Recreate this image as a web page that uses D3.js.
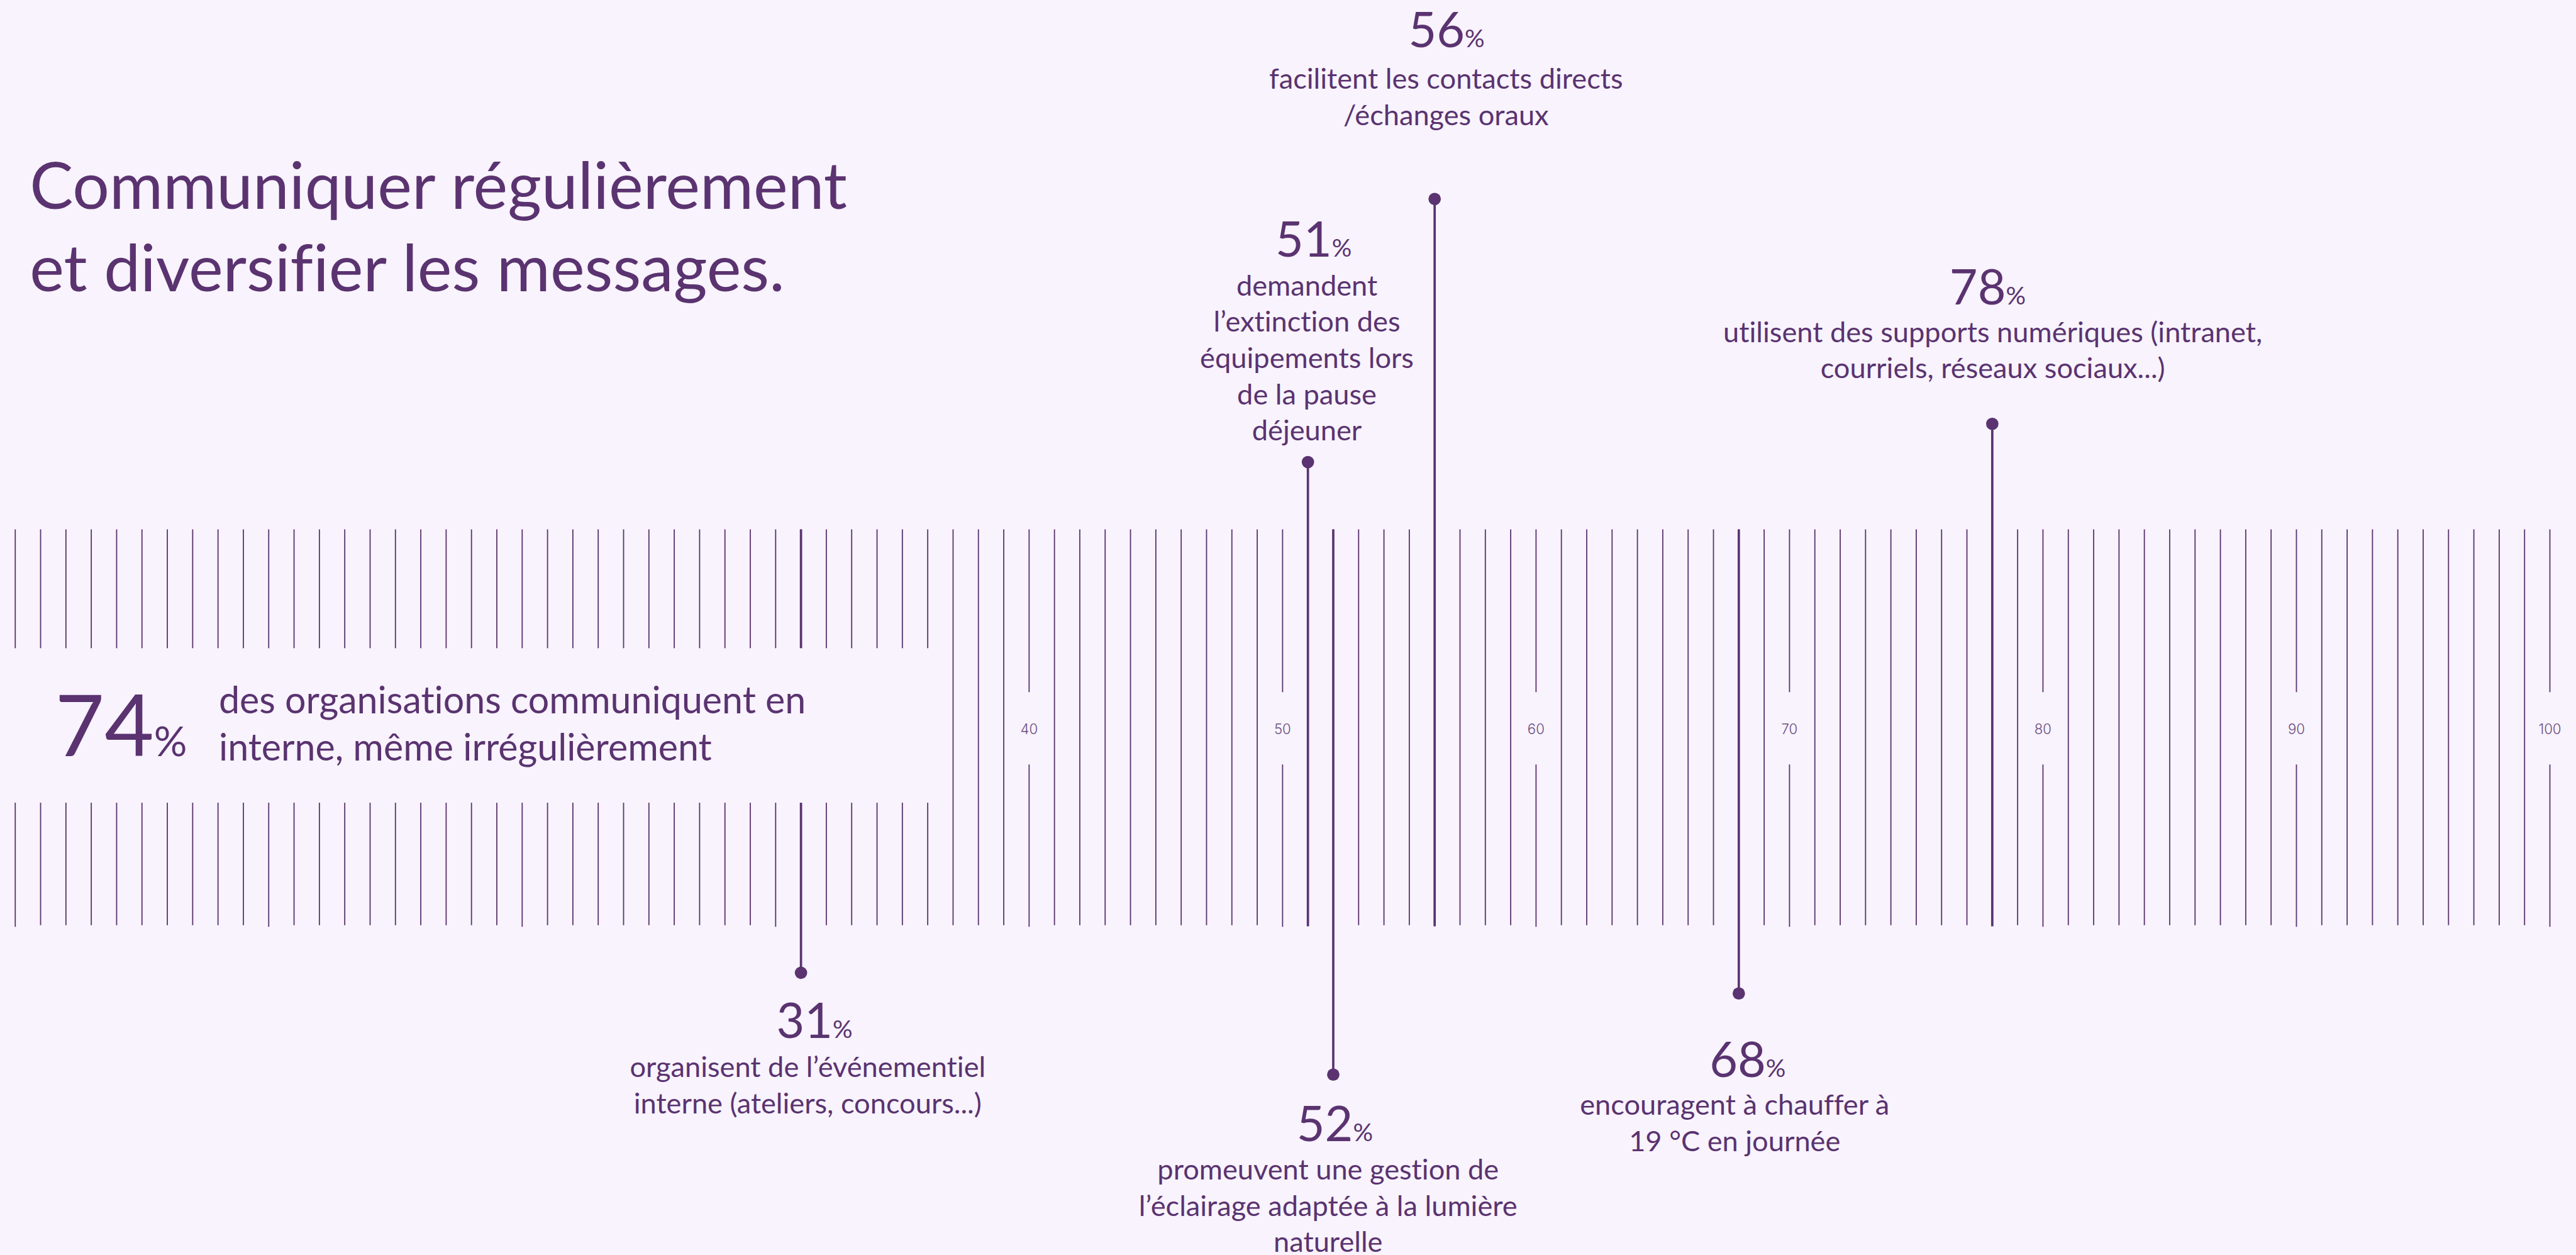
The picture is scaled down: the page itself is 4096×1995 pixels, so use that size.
<!DOCTYPE html>
<html lang="fr">
<head>
<meta charset="utf-8">
<title>Communiquer régulièrement et diversifier les messages</title>
<script src="https://cdn.jsdelivr.net/npm/d3@7"></script>
<style>
  html, body { margin: 0; padding: 0; background: #f8f3fc; overflow: hidden; }
  svg { display: block; }
  text {
    font-family: Lato, "Open Sans", sans-serif;
    fill: #5a3370;
    font-variant-ligatures: none;
    font-feature-settings: "liga" 0, "dlig" 0;
  }
</style>
</head>
<body>
<svg id="chart"></svg>
<script>
// --- données ---
const titleLines = ["Communiquer régulièrement", "et diversifier les messages."];
const headlineValue = 74;
const headlineLines = ["des organisations communiquent en", "interne, même irrégulièrement"];

const markerValues = [31, 51, 52, 56, 68, 78];
const markerLines = [
  ["organisent de l’événementiel", "interne (ateliers, concours...)"],
  ["demandent", "l’extinction des", "équipements lors", "de la pause", "déjeuner"],
  ["promeuvent une gestion de", "l’éclairage adaptée à la lumière", "naturelle"],
  ["facilitent les contacts directs", "/échanges oraux"],
  ["encouragent à chauffer à", "19 °C en journée"],
  ["utilisent des supports numériques (intranet,", "courriels, réseaux sociaux...)"]
];

const tickValues = d3.range(0, 101);
const tickLabels = [40, 50, 60, 70, 80, 90, 100];

// --- mise en page (coordonnées de la maquette 4984 x 2428) ---
const W = 4984, H = 2428;
const color = "#5a3370";
const rulerTop = 1024, rulerBottom = 1790;
const box = { right: 1822, top: 1254, bottom: 1553 };   // zone du texte 74 %
const gapTop = 1339, gapBottom = 1479, labelY = 1410;
const lineStep = 70;

// placement des étiquettes de chaque repère
const markerLayout = {
  31: { up: false, dotY: 1882, numDx: 26, numY: 2008, textDx: 13, textY: 2084 },
  51: { up: true,  dotY: 894,  numDx: 11, numY: 496,  textDx: -2, textY: 572 },
  52: { up: false, dotY: 2079, numDx: 3,  numY: 2208, textDx: -10, textY: 2282 },
  56: { up: true,  dotY: 385,  numDx: 23, numY: 91,   textDx: 22, textY: 172 },
  68: { up: false, dotY: 1922, numDx: 17, numY: 2084, textDx: -8, textY: 2157 },
  78: { up: true,  dotY: 820,  numDx: -9, numY: 589,  textDx: 1,  textY: 662 }
};

const svg = d3.select("#chart")
  .attr("width", 4096)
  .attr("height", 1995)
  .attr("viewBox", [0, 0, W, H]);

svg.append("rect").attr("width", W).attr("height", H).attr("fill", "#f8f3fc");

const x = d3.scaleLinear().domain([0, 100]).range([29, 4934]);

// graduations
const segs = [];
tickValues.forEach((v) => {
  const bottom = v % 10 === 0 ? rulerBottom + 3 : rulerBottom;
  if (tickLabels.includes(v)) {
    segs.push({ v, y1: rulerTop, y2: gapTop }, { v, y1: gapBottom, y2: bottom });
  } else {
    segs.push({ v, y1: rulerTop, y2: bottom });
  }
});

svg.append("g").selectAll("line")
  .data(segs)
  .join("line")
  .attr("x1", (d) => x(d.v)).attr("x2", (d) => x(d.v))
  .attr("y1", (d) => d.y1).attr("y2", (d) => d.y2)
  .attr("stroke", color)
  .attr("stroke-width", 2.2);

svg.append("g").selectAll("text")
  .data(tickLabels)
  .join("text")
  .attr("x", (d) => x(d))
  .attr("y", labelY)
  .attr("text-anchor", "middle")
  .attr("dominant-baseline", "central")
  .style("font-family", "Inter, Lato, sans-serif")
  .style("font-weight", 300)
  .style("font-size", "27px")
  .style("fill", "#6c4f82")
  .text((d) => d);

// repères
const markers = markerValues.map((v, i) => ({ v, lines: markerLines[i], ...markerLayout[v] }));

const mk = svg.append("g").selectAll("g")
  .data(markers)
  .join("g");

mk.append("line")
  .attr("x1", (d) => x(d.v)).attr("x2", (d) => x(d.v))
  .attr("y1", (d) => (d.up ? d.dotY : rulerTop))
  .attr("y2", (d) => (d.up ? rulerBottom + 2 : d.dotY))
  .attr("stroke", color)
  .attr("stroke-width", 4.5);

mk.append("circle")
  .attr("cx", (d) => x(d.v))
  .attr("cy", (d) => d.dotY)
  .attr("r", 12)
  .attr("fill", color);

// cache du bloc 74 %
svg.append("rect")
  .attr("x", 0).attr("y", box.top)
  .attr("width", box.right).attr("height", box.bottom - box.top)
  .attr("fill", "#f8f3fc");

const num = mk.append("text")
  .attr("x", (d) => x(d.v) + d.numDx)
  .attr("y", (d) => d.numY)
  .attr("text-anchor", "middle");
num.append("tspan").style("font-size", "94px").text((d) => d.v);
num.append("tspan").style("font-size", "48px").text("%");

mk.append("text")
  .attr("text-anchor", "middle")
  .style("font-size", "55px")
  .selectAll("tspan")
  .data((d) => d.lines.map((t, i) => ({ t, i, d })))
  .join("tspan")
  .attr("x", (e) => x(e.d.v) + e.d.textDx)
  .attr("y", (e) => e.d.textY + e.i * lineStep)
  .text((e) => e.t);

// bloc 74 %
const head = svg.append("text").attr("x", 106).attr("y", 1463);
head.append("tspan").style("font-size", "165px").text(headlineValue);
head.append("tspan").style("font-size", "80px").text("%");

svg.append("text")
  .style("font-size", "72px")
  .selectAll("tspan")
  .data(headlineLines)
  .join("tspan")
  .attr("x", 423)
  .attr("y", (d, i) => 1380 + i * 91)
  .text((d) => d);

// titre
svg.append("text")
  .style("font-size", "126px")
  .selectAll("tspan")
  .data(titleLines)
  .join("tspan")
  .attr("x", 57)
  .attr("y", (d, i) => 404 + i * 159)
  .text((d) => d);
</script>
</body>
</html>
